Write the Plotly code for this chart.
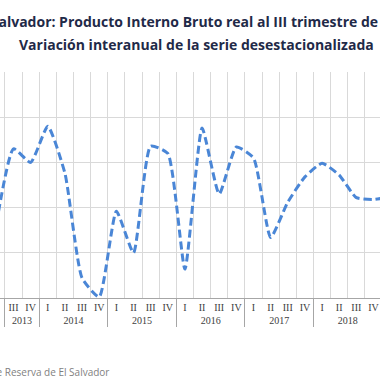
import plotly.graph_objects as go

years = ["2013"] * 4 + ["2014"] * 4 + ["2015"] * 4 + ["2016"] * 4 + ["2017"] * 4 + ["2018"] * 4 + ["2019"]
quarters = ["I", "II", "III", "IV"] * 6 + ["I"]
values = [None, 1.82, 2.65, 2.50,
          2.90, 2.38, 1.22, 1.01,
          1.96, 1.50, 2.68, 2.60,
          1.32, 2.88, 2.15, 2.67,
          2.55, 1.67, 2.06, 2.34,
          2.49, 2.36, 2.11, 2.09,
          2.12]

title1 = "El Salvador: Producto Interno Bruto real al III trimestre de 2019"
title2 = "Variación interanual de la serie desestacionalizada"
source = "Fuente: Banco Central de Reserva de El Salvador"

fig = go.Figure()
fig.add_trace(go.Scatter(
    x=[years, quarters], y=values, mode="lines",
    line=dict(color="#4A86D6", width=3, dash="8px,4px", shape="spline", smoothing=0.5),
    connectgaps=False, hoverinfo="skip", showlegend=False,
))

fig.update_layout(
    width=380, height=380,
    margin=dict(l=0, r=0, t=72, b=82, autoexpand=False),
    paper_bgcolor="white", plot_bgcolor="white",
    xaxis=dict(
        type="multicategory", range=[1.212, 23.38], automargin=False,
        tickson="boundaries", showgrid=True, gridcolor="#D9D9D9", gridwidth=1,
        showline=True, linecolor="#A6A6A6", linewidth=1, tickangle=0,
        ticks="", showdividers=True, dividercolor="#A6A6A6", dividerwidth=1,
        tickfont=dict(family="Liberation Serif", size=10, color="#404040"),
    ),
    yaxis=dict(
        range=[1.0, 3.5], dtick=0.5, showgrid=True, gridcolor="#D9D9D9", gridwidth=1,
        showticklabels=False, zeroline=False, showline=False, ticks="", automargin=False,
    ),
    annotations=[
        dict(text="<b>" + title1 + "</b>", xref="paper", yref="paper", x=194 / 380, y=1.223,
             xanchor="center", yanchor="middle", showarrow=False,
             font=dict(family="Open Sans", size=14, color="#1F2A48")),
        dict(text="<b>" + title2 + "</b>", xref="paper", yref="paper", x=196 / 380, y=1.121,
             xanchor="center", yanchor="middle", showarrow=False,
             font=dict(family="Open Sans", size=14, color="#1F2A48")),
        dict(text=source, xref="paper", yref="paper", x=111 / 380, y=-0.328,
             xanchor="right", yanchor="middle", showarrow=False,
             font=dict(family="Open Sans", size=10, color="#7F7F7F")),
    ],
)

fig.write_html("out.html", config={"displayModeBar": False},
               post_script="document.body.style.margin='0px';")
